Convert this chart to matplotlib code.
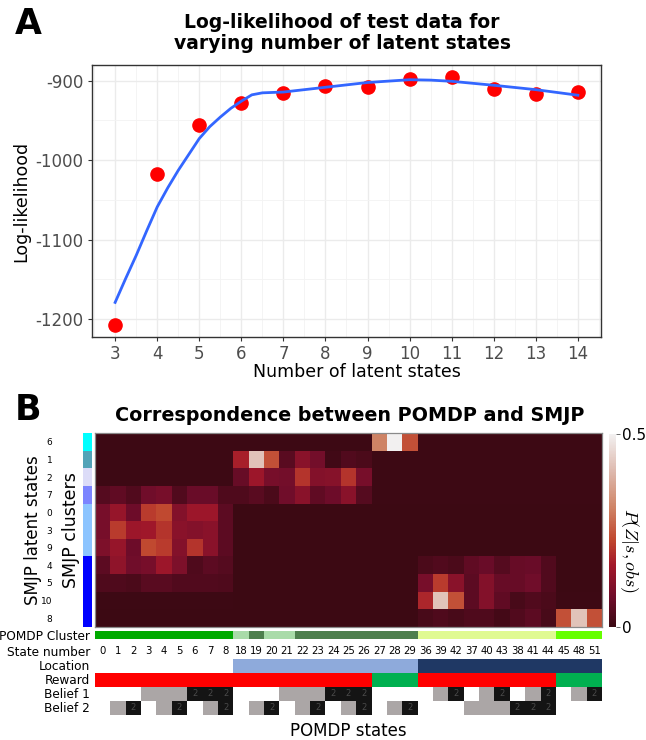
import numpy as np
import matplotlib.pyplot as plt
from matplotlib.colors import LinearSegmentedColormap, to_rgb
from matplotlib.ticker import MultipleLocator

plt.rcParams['font.family'] = ['DejaVu Sans']
plt.rcParams['mathtext.fontset'] = 'cm'
plt.rcParams['axes.unicode_minus'] = False

W, H = 646, 740

# ---- panel A data ----
n_states = [3, 4, 5, 6, 7, 8, 9, 10, 11, 12, 13, 14]
loglik = [-1208, -1017.5, -956, -928.5, -916, -906.5, -908.5, -898, -896, -911, -917, -914.5]

# loess curve
smooth_x = [3, 3.25, 3.5, 3.75, 4, 4.25, 4.5, 4.75, 5, 5.25, 5.5, 5.75, 6, 6.25, 6.5, 7,
            8, 9, 10, 10.5, 11, 12, 13, 14]
smooth_y = [-1179, -1149, -1120, -1089, -1059, -1035, -1013, -993, -973, -958, -946, -935,
            -926, -918, -915.5, -914.5, -908.5, -902.5, -899, -899.5, -901, -906, -911.5, -918.5]

# ---- panel B data ----
smjp_rows = ['6', '1', '2', '7', '0', '3', '9', '4', '5', '10', '8']
smjp_cluster = [0, 1, 2, 3, 4, 4, 4, 5, 5, 5, 5]
cluster_colors = ['#00ffff', '#52a3b8', '#dcdcf8', '#7c84ff', '#8cc4ff', '#0000ff']

state_numbers = [0, 1, 2, 3, 4, 5, 6, 7, 8,
                 18, 19, 20, 21, 22, 23, 24, 25, 26, 27, 28, 29,
                 36, 39, 42, 37, 40, 43, 38, 41, 44,
                 45, 48, 51]

# P(Z | s, obs): rows = SMJP latent states, cols = POMDP states
row_6 = [0.005, 0.005, 0.005, 0.005, 0.005, 0.005, 0.005, 0.005, 0.005,
         0.005, 0.005, 0.005, 0.005, 0.005, 0.005, 0.005, 0.005, 0.005, 0.31, 0.50, 0.24,
         0.005, 0.005, 0.005, 0.005, 0.005, 0.005, 0.005, 0.005, 0.005,
         0.005, 0.005, 0.005]
row_1 = [0.005, 0.005, 0.005, 0.005, 0.005, 0.005, 0.005, 0.005, 0.005,
         0.17, 0.42, 0.24, 0.045, 0.12, 0.085, 0.01, 0.035, 0.025, 0.005, 0.005, 0.005,
         0.005, 0.005, 0.005, 0.005, 0.005, 0.005, 0.005, 0.005, 0.005,
         0.005, 0.005, 0.005]
row_2 = [0.005, 0.005, 0.005, 0.005, 0.005, 0.005, 0.005, 0.005, 0.005,
         0.065, 0.15, 0.09, 0.085, 0.20, 0.11, 0.115, 0.20, 0.09, 0.005, 0.005, 0.005,
         0.005, 0.005, 0.005, 0.005, 0.005, 0.005, 0.005, 0.005, 0.005,
         0.005, 0.005, 0.005]
row_7 = [0.04, 0.055, 0.035, 0.08, 0.09, 0.035, 0.07, 0.07, 0.03,
         0.03, 0.045, 0.025, 0.08, 0.12, 0.055, 0.075, 0.12, 0.04, 0.005, 0.005, 0.005,
         0.005, 0.005, 0.005, 0.005, 0.005, 0.005, 0.005, 0.005, 0.005,
         0.005, 0.005, 0.005]
row_0 = [0.09, 0.14, 0.075, 0.21, 0.23, 0.11, 0.15, 0.15, 0.05,
         0.003, 0.003, 0.003, 0.003, 0.003, 0.003, 0.003, 0.003, 0.003, 0.003, 0.003, 0.003,
         0.003, 0.003, 0.003, 0.003, 0.003, 0.003, 0.003, 0.003, 0.003,
         0.003, 0.003, 0.003]
row_3 = [0.09, 0.21, 0.15, 0.155, 0.20, 0.12, 0.11, 0.12, 0.05,
         0.003, 0.003, 0.003, 0.003, 0.003, 0.003, 0.003, 0.003, 0.003, 0.003, 0.003, 0.003,
         0.003, 0.003, 0.003, 0.003, 0.003, 0.003, 0.003, 0.003, 0.003,
         0.003, 0.003, 0.003]
row_9 = [0.10, 0.14, 0.075, 0.23, 0.21, 0.11, 0.20, 0.12, 0.05,
         0.003, 0.003, 0.003, 0.003, 0.003, 0.003, 0.003, 0.003, 0.003, 0.003, 0.003, 0.003,
         0.003, 0.003, 0.003, 0.003, 0.003, 0.003, 0.003, 0.003, 0.003,
         0.003, 0.003, 0.003]
row_4 = [0.05, 0.13, 0.08, 0.09, 0.15, 0.10, 0.03, 0.05, 0.04,
         0.003, 0.003, 0.003, 0.003, 0.003, 0.003, 0.003, 0.003, 0.003, 0.003, 0.003, 0.003,
         0.025, 0.035, 0.025, 0.055, 0.07, 0.04, 0.065, 0.07, 0.035,
         0.003, 0.003, 0.003]
row_5 = [0.03, 0.03, 0.025, 0.045, 0.045, 0.035, 0.035, 0.035, 0.03,
         0.003, 0.003, 0.003, 0.003, 0.003, 0.003, 0.003, 0.003, 0.003, 0.003, 0.003, 0.003,
         0.09, 0.21, 0.12, 0.05, 0.11, 0.065, 0.065, 0.08, 0.035,
         0.003, 0.003, 0.003]
row_10 = [0.005, 0.005, 0.005, 0.005, 0.005, 0.005, 0.005, 0.005, 0.005,
          0.003, 0.003, 0.003, 0.003, 0.003, 0.003, 0.003, 0.003, 0.003, 0.003, 0.003, 0.003,
          0.18, 0.42, 0.24, 0.05, 0.11, 0.055, 0.02, 0.035, 0.025,
          0.005, 0.005, 0.005]
row_8 = [0.003, 0.003, 0.003, 0.003, 0.003, 0.003, 0.003, 0.003, 0.003,
         0.003, 0.003, 0.003, 0.003, 0.003, 0.003, 0.003, 0.003, 0.003, 0.003, 0.003, 0.003,
         0.02, 0.03, 0.02, 0.03, 0.03, 0.015, 0.035, 0.05, 0.02,
         0.24, 0.42, 0.24]

pomdp_cluster = [0, 0, 0, 0, 0, 0, 0, 0, 0,
                 1, 2, 1, 1, 2, 2, 2, 2, 2, 2, 2, 2,
                 3, 3, 3, 3, 3, 3, 3, 3, 3,
                 4, 4, 4]
location = [0, 0, 0, 0, 0, 0, 0, 0, 0,
            1, 1, 1, 1, 1, 1, 1, 1, 1, 1, 1, 1,
            2, 2, 2, 2, 2, 2, 2, 2, 2,
            2, 2, 2]
reward = [0, 0, 0, 0, 0, 0, 0, 0, 0,
          0, 0, 0, 0, 0, 0, 0, 0, 0, 1, 1, 1,
          0, 0, 0, 0, 0, 0, 0, 0, 0,
          1, 1, 1]
belief_1 = [0, 0, 0, 1, 1, 1, 2, 2, 2,
            0, 0, 0, 1, 1, 1, 2, 2, 2, 0, 0, 0,
            0, 1, 2, 0, 1, 2, 0, 1, 2,
            0, 1, 2]
belief_2 = [0, 1, 2, 0, 1, 2, 0, 1, 2,
            0, 1, 2, 0, 1, 2, 0, 1, 2, 0, 1, 2,
            0, 0, 0, 1, 1, 1, 2, 2, 2,
            0, 0, 0]

pomdp_colors = ['#00aa00', '#a9dba9', '#4e7f4e', '#e0fa92', '#66ff00']
location_colors = ['#ffffff', '#8eaadb', '#1f3864']
reward_colors = ['#ff0000', '#00b050']
belief_colors = ['#ffffff', '#aba6a6', '#141414']


def px_axes(fig, x0, y0, x1, y1):
    return fig.add_axes([x0 / W, 1 - y1 / H, (x1 - x0) / W, (y1 - y0) / H])


def color_strip(fig, box, codes, palette):
    ax = px_axes(fig, *box)
    rgb = np.array([[to_rgb(palette[c]) for c in codes]])
    ax.imshow(rgb, aspect='auto', interpolation='nearest')
    ax.set_axis_off()
    return ax


fig = plt.figure(figsize=(W / 100, H / 100), dpi=100)

# ================= Panel A =================
ax = px_axes(fig, 92, 65, 601, 337)
ax.set_facecolor('white')
ax.xaxis.set_major_locator(MultipleLocator(1))
ax.xaxis.set_minor_locator(MultipleLocator(0.5))
ax.yaxis.set_major_locator(MultipleLocator(100))
ax.yaxis.set_minor_locator(MultipleLocator(50))
ax.grid(which='major', color='#ebebeb', lw=1.0)
ax.grid(which='minor', color='#f3f3f3', lw=0.6)
ax.set_axisbelow(True)
ax.plot(n_states, loglik, 'o', color='#ff0000', ms=9.5, zorder=2)
ax.plot(smooth_x, smooth_y, '-', color='#3366ff', lw=2.0, zorder=3)
ax.set_xlim(2.45, 14.55)
ax.set_ylim(-1222.5, -880.5)
ax.set_xticks(n_states)
ax.set_yticks([-1200, -1100, -1000, -900])
ax.tick_params(which='major', length=3, color='#333333', labelsize=12,
               labelcolor='#4d4d4d', pad=3)
ax.tick_params(which='minor', length=0)
for s in ax.spines.values():
    s.set_color('#333333')
    s.set_linewidth(1.0)
ax.set_xlabel('Number of latent states', fontsize=12.5, labelpad=2)
ax.xaxis.set_label_coords(0.52, -0.095)
ax.set_ylabel('Log-likelihood', fontsize=12.5, labelpad=4)
fig.text(342 / W, 1 - 33 / H, 'Log-likelihood of test data for\nvarying number of latent states',
         ha='center', va='center', fontsize=13.5, fontweight='bold', linespacing=1.1)
fig.text(28 / W, 1 - 24 / H, 'A', ha='center', va='center', fontsize=25, fontweight='bold')

# ================= Panel B =================
heat = np.array([row_6, row_1, row_2, row_7, row_0, row_3, row_9, row_4, row_5, row_10, row_8])
cmap = LinearSegmentedColormap.from_list('pzs', [
    (0.0, '#3b0913'), (0.15, '#6e0d2a'), (0.32, '#a3182a'), (0.45, '#c0462e'),
    (0.62, '#cf8466'), (0.8, '#ddb7ab'), (1.0, '#f2f0f0')])

axh = px_axes(fig, 95, 433, 602, 627)
im = axh.imshow(heat, cmap=cmap, vmin=0, vmax=0.5, aspect='auto', interpolation='nearest')
axh.set_xticks([])
axh.set_yticks([])
for s in axh.spines.values():
    s.set_color('#8a8a8a')
    s.set_linewidth(0.9)

# SMJP cluster strip with row labels
axc = px_axes(fig, 83, 433, 92, 627)
rgb = np.array([[to_rgb(cluster_colors[c])] for c in smjp_cluster])
axc.imshow(rgb, aspect='auto', interpolation='nearest')
axc.set_xticks([])
axc.set_yticks(range(len(smjp_rows)))
axc.set_yticklabels(smjp_rows, fontsize=6.5)
axc.tick_params(axis='y', length=0, pad=22)
for s in axc.spines.values():
    s.set_visible(False)

fig.text(33 / W, 1 - 530 / H, 'SMJP latent states', rotation=90, ha='center', va='center',
         fontsize=12)
fig.text(71 / W, 1 - 530 / H, 'SMJP clusters', rotation=90, ha='center', va='center',
         fontsize=12.5)

# colorbar
cax = px_axes(fig, 609, 434, 616, 627)
cb = fig.colorbar(im, cax=cax, ticks=[0, 0.5])
cb.ax.set_yticklabels(['0', '0.5'])
cb.outline.set_visible(False)
cb.ax.tick_params(length=3, width=0.6, color='#555555', labelsize=11, pad=1)
fig.text(629 / W, 1 - 550 / H, r'$P(Z|s,obs)$', rotation=270, ha='center', va='center',
         fontsize=13)

fig.text(350 / W, 1 - 415 / H, 'Correspondence between POMDP and SMJP', ha='center',
         va='center', fontsize=13.8, fontweight='bold')
fig.text(28 / W, 1 - 410 / H, 'B', ha='center', va='center', fontsize=25, fontweight='bold')

# annotation strips under the heatmap
color_strip(fig, (95, 631, 602, 639), pomdp_cluster, pomdp_colors)
color_strip(fig, (95, 659, 602, 673), location, location_colors)
color_strip(fig, (95, 673, 602, 687), reward, reward_colors)
ab1 = color_strip(fig, (95, 687, 602, 701), belief_1, belief_colors)
ab2 = color_strip(fig, (95, 701, 602, 715), belief_2, belief_colors)
for axb, vals in [(ab1, belief_1), (ab2, belief_2)]:
    for i, v in enumerate(vals):
        if v == 2:
            axb.text(i, 0, '2', ha='center', va='center', fontsize=6, color='#4a4a4a')

axs = px_axes(fig, 95, 644, 602, 659)
axs.set_xlim(-0.5, len(state_numbers) - 0.5)
axs.set_ylim(0, 1)
axs.set_axis_off()
for i, s in enumerate(state_numbers):
    axs.text(i, 0.5, str(s), ha='center', va='center', fontsize=7.3)

row_names = ['POMDP Cluster', 'State number', 'Location', 'Reward', 'Belief 1', 'Belief 2']
row_y = [637, 652, 666, 680, 694, 708]
for name, y in zip(row_names, row_y):
    fig.text(90 / W, 1 - y / H, name, ha='right', va='center', fontsize=8.7)

fig.text(348 / W, 1 - 731 / H, 'POMDP states', ha='center', va='center', fontsize=12)

fig.savefig('out.png', dpi=100)
